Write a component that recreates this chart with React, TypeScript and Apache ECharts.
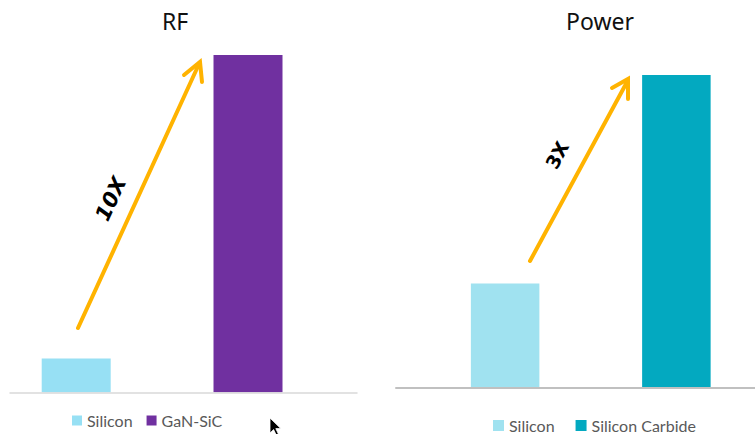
import React, { useEffect, useRef } from "react";
import * as echarts from "echarts";

// ---- data ----
const categories = [""];
const rfTitle = "RF";
const powerTitle = "Power";
const rfSeriesNames = ["Silicon", "GaN-SiC"];
const rfValues = [1, 10];
const powerSeriesNames = ["Silicon", "Silicon Carbide"];
const powerValues = [1, 3];
const rfLabel = "10X";
const powerLabel = "3X";

const SI_RF = "#97E0F4";
const GAN = "#7030A0";
const SI_PW = "#A0E2F0";
const SIC = "#03A9C0";
const ORANGE = "#FFB300";

echarts.graphic.registerShape(
  "cursorArrow",
  echarts.graphic.extendPath(
    "M0,0 L0,15 L3.6,11.6 L6.2,17 L8.4,16 L5.8,10.6 L10.8,10.6 Z",
    {}
  )
);

export default function App() {
  const ref = useRef<HTMLDivElement>(null);
  useEffect(() => {
    if (!ref.current) return;
    const chart = echarts.init(ref.current, null, { renderer: "svg" });
    const legendText = { fontFamily: "Lato", fontSize: 16, color: "#595959" };
    const option: any = {
      animation: false,
      backgroundColor: "#ffffff",
      title: [
        {
          text: rfTitle,
          left: 170,
          top: 4,
          textAlign: "center",
          textStyle: { fontFamily: "Noto Sans", fontSize: 23, fontWeight: "normal", color: "#111111" },
        },
        {
          text: powerTitle,
          left: 595,
          top: 4,
          textAlign: "center",
          textStyle: { fontFamily: "Noto Sans", fontSize: 23, fontWeight: "normal", color: "#111111" },
        },
      ],
      legend: [
        {
          left: 72,
          top: 412.5,
          padding: 0,
          itemWidth: 10,
          itemHeight: 10,
          itemGap: 14,
          icon: "rect",
          selectedMode: false,
          textStyle: legendText,
          data: [
            { name: rfSeriesNames[0], itemStyle: { color: SI_RF } },
            { name: rfSeriesNames[1], itemStyle: { color: GAN } },
          ],
        },
        {
          left: 493,
          top: 417.5,
          padding: 0,
          itemWidth: 11,
          itemHeight: 11,
          itemGap: 21,
          icon: "rect",
          selectedMode: false,
          textStyle: legendText,
          data: [
            { name: powerSeriesNames[0], itemStyle: { color: SI_PW } },
            { name: powerSeriesNames[1], itemStyle: { color: SIC } },
          ],
        },
      ],
      grid: [
        { left: 10, right: 440.8, top: 55, bottom: 41.7 },
        { left: 440.75, right: 14.25, top: 75, bottom: 46.3 },
        { left: 10, right: 398, top: 55, bottom: 41.7 },
        { left: 396, right: 0, top: 75, bottom: 46.3 },
      ],
      xAxis: [
        { type: "category", gridIndex: 0, data: categories, show: false },
        { type: "category", gridIndex: 1, data: categories, show: false },
        {
          type: "category",
          gridIndex: 2,
          data: categories,
          z: 5,
          axisLine: { show: true, lineStyle: { color: "#d9d9d9", width: 1.5 } },
          axisTick: { show: false },
          axisLabel: { show: false },
        },
        {
          type: "category",
          gridIndex: 3,
          data: categories,
          z: 5,
          axisLine: { show: true, lineStyle: { color: "#c0c0c0", width: 2 } },
          axisTick: { show: false },
          axisLabel: { show: false },
        },
      ],
      yAxis: [
        { type: "value", gridIndex: 0, min: 0, max: 10, show: false },
        { type: "value", gridIndex: 1, min: 0, max: 3, show: false },
        { type: "value", gridIndex: 2, min: 0, max: 10, show: false },
        { type: "value", gridIndex: 3, min: 0, max: 3, show: false },
      ],
      series: [
        {
          type: "bar",
          name: rfSeriesNames[0],
          xAxisIndex: 0,
          yAxisIndex: 0,
          barWidth: 69,
          barGap: "149%",
          itemStyle: { color: SI_RF },
          data: [rfValues[0]],
        },
        {
          type: "bar",
          name: rfSeriesNames[1],
          xAxisIndex: 0,
          yAxisIndex: 0,
          barWidth: 69,
          barGap: "149%",
          itemStyle: { color: GAN },
          data: [rfValues[1]],
        },
        {
          type: "bar",
          name: powerSeriesNames[0],
          xAxisIndex: 1,
          yAxisIndex: 1,
          barWidth: 68.5,
          barGap: "150%",
          itemStyle: { color: SI_PW },
          data: [powerValues[0]],
        },
        {
          type: "bar",
          name: powerSeriesNames[1],
          xAxisIndex: 1,
          yAxisIndex: 1,
          barWidth: 68.5,
          barGap: "150%",
          itemStyle: { color: SIC },
          data: [powerValues[1]],
        },
      ],
      graphic: [
        {
          type: "polyline",
          z: 10,
          shape: { points: [[78, 328], [199, 64]] },
          style: { stroke: ORANGE, lineWidth: 4, fill: null, lineCap: "round" },
        },
        {
          type: "polyline",
          z: 10,
          shape: { points: [[184, 75], [200, 62], [202, 82]] },
          style: { stroke: ORANGE, lineWidth: 4, fill: null, lineCap: "round", lineJoin: "miter" },
        },
        {
          type: "polyline",
          z: 10,
          shape: { points: [[530, 261], [627, 82]] },
          style: { stroke: ORANGE, lineWidth: 4, fill: null, lineCap: "round" },
        },
        {
          type: "polyline",
          z: 10,
          shape: { points: [[612, 88], [628, 79], [628, 99]] },
          style: { stroke: ORANGE, lineWidth: 4, fill: null, lineCap: "round", lineJoin: "miter" },
        },
        {
          type: "text",
          z: 10,
          x: 111,
          y: 199,
          rotation: (65 * Math.PI) / 180,
          style: {
            text: rfLabel,
            fontFamily: "DejaVu Sans",
            fontWeight: "bold",
            fontStyle: "italic",
            fontSize: 21,
            fill: "#000000",
            textAlign: "center",
            textVerticalAlign: "middle",
          },
        },
        {
          type: "text",
          z: 10,
          x: 557,
          y: 155,
          rotation: (62 * Math.PI) / 180,
          style: {
            text: powerLabel,
            fontFamily: "DejaVu Sans",
            fontWeight: "bold",
            fontSize: 19,
            fill: "#000000",
            textAlign: "center",
            textVerticalAlign: "middle",
          },
        },
        {
          type: "cursorArrow",
          z: 20,
          x: 270,
          y: 418,
          style: { fill: "#000000", stroke: "#ffffff", lineWidth: 0.8 },
        },
      ],
    };
    chart.setOption(option);
    return () => chart.dispose();
  }, []);
  return (
    <div
      ref={ref}
      style={{ position: "fixed", left: 0, top: 0, width: 755, height: 434, background: "#fff" }}
    />
  );
}
